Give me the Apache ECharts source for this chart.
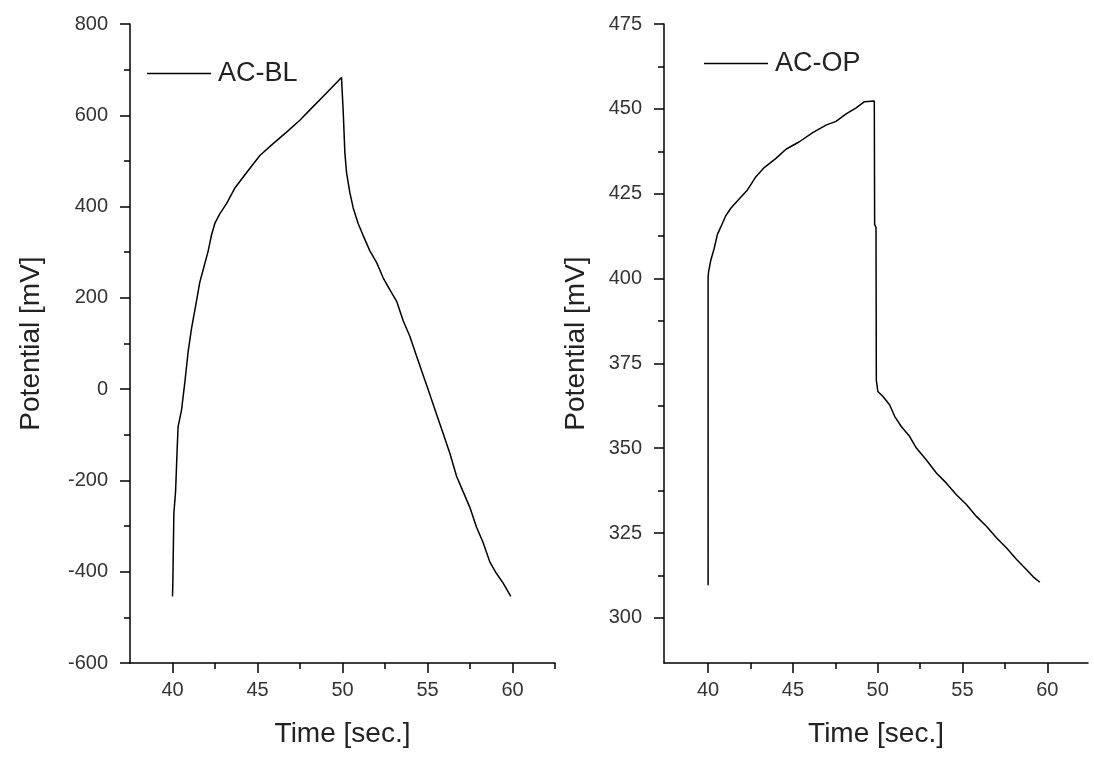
<!DOCTYPE html>
<html>
<head>
<meta charset="utf-8">
<title>AC-BL / AC-OP</title>
<script src="https://cdn.jsdelivr.net/npm/echarts@6/dist/echarts.min.js"></script>
<style>
  html, body { margin: 0; padding: 0; background: #fff; }
  #chart { width: 1094px; height: 761px; }
</style>
</head>
<body>
<div id="chart"></div>
<script>
// AC-BL (left panel)
const timeBL = [40.0, 40.02, 40.08, 40.18, 40.28, 40.33, 40.53, 40.72, 40.92, 41.12, 41.41, 41.61, 41.8, 42.1, 42.29, 42.49,
  42.78, 43.17, 43.66, 44.35, 45.14, 45.92, 46.71, 47.49, 48.27, 49.06, 49.94,
  50.04, 50.14, 50.24, 50.43, 50.63, 50.92, 51.21, 51.61, 52.0, 52.39, 52.78, 53.18, 53.57, 53.96, 54.35,
  54.74, 55.14, 55.53, 55.92, 56.31, 56.71, 57.1, 57.49, 57.88, 58.27, 58.67, 59.06, 59.45, 59.9];
const potBL = [-454, -425, -272, -225, -126, -82, -46, 13, 82, 133, 193, 235, 261, 303, 337, 363,
  384, 406, 440, 474, 512, 538, 563, 589, 619, 649, 683,
  610, 517, 474, 431, 397, 363, 337, 303, 278, 244, 218, 193, 150, 116, 73,
  31, -12, -55, -97, -140, -191, -225, -259, -302, -336, -379, -404, -425, -454];

// AC-OP (right panel)
const timeOP = [40.0, 40.0, 40.03, 40.16, 40.35, 40.55, 40.75, 41.04, 41.34, 41.83, 42.32, 42.82, 43.31, 44.0,
  44.59, 45.38, 46.17, 46.95, 47.54, 48.14, 48.73, 49.22, 49.8, 49.82, 49.9, 49.92, 50.01,
  50.3, 50.7, 51.0, 51.39, 51.88, 52.27, 52.86, 53.46, 54.05, 54.64, 55.23, 55.82, 56.41, 57.0,
  57.6, 58.19, 58.78, 59.17, 59.56];
const potOP = [309.6, 400.5, 402, 405.4, 408.7, 413, 415.2, 418.5, 420.7, 423.4, 426.1, 430, 432.7, 435.4,
  438.1, 440.3, 443, 445.2, 446.3, 448.5, 450.3, 452.1, 452.3, 416, 415, 370, 366.7,
  365.3, 362.8, 359.4, 356.4, 353.5, 350.1, 346.6, 342.7, 339.7, 336.3, 333.4, 329.9, 327, 323.6,
  320.6, 317.2, 314.2, 312.1, 310.5];

// ticks
const xMajor = [40, 45, 50, 55, 60];
const xMinor = [42.5, 47.5, 52.5, 57.5, 62.5];
const yMajorOP = [300, 325, 350, 375, 400, 425, 450, 475];
const yMinorOP = [312.5, 337.5, 362.5, 387.5, 412.5, 437.5, 462.5];

const FONT = "'Liberation Sans', Arial, sans-serif";
const black = { color: '#000', width: 1.5 };

const labelStyle = { color: '#333', fontSize: 20, fontFamily: FONT };
const nameStyle = { color: '#222', fontSize: 28, fontFamily: FONT };

function mainX(grid, min, max) {
    return {
        gridIndex: grid, type: 'value', min: min, max: max, position: 'bottom',
        name: 'Time [sec.]', nameLocation: 'middle', nameGap: 57, nameTextStyle: nameStyle,
        axisLine: { show: true, onZero: false, lineStyle: black },
        axisTick: { show: true, length: 10, customValues: xMajor, lineStyle: black },
        axisLabel: Object.assign({ customValues: xMajor, margin: 17 }, labelStyle),
        splitLine: { show: false }
    };
}
function minorX(grid, min, max) {
    return {
        gridIndex: grid, type: 'value', min: min, max: max, position: 'bottom',
        axisLine: { show: false, onZero: false },
        axisTick: { show: true, length: 6, customValues: xMinor, lineStyle: black },
        axisLabel: { show: false },
        splitLine: { show: false }
    };
}

const chart = echarts.init(document.getElementById('chart'));

const option = {
    animation: false,
    backgroundColor: '#fff',
    grid: [
        { left: 130, top: 24, width: 425, height: 639 },
        { left: 664, top: 24, width: 424, height: 639 }
    ],
    legend: [{
        data: ['AC-BL'], left: 142, top: 55, icon: 'rect', itemWidth: 64, itemHeight: 1.5,
        textStyle: { color: '#222', fontSize: 27, fontFamily: FONT, padding: [0, 0, 0, 2] }
    }, {
        data: ['AC-OP'], left: 699, top: 45, icon: 'rect', itemWidth: 64, itemHeight: 1.5,
        textStyle: { color: '#222', fontSize: 27, fontFamily: FONT, padding: [0, 0, 0, 2] }
    }],
    xAxis: [
        mainX(0, 37.5, 62.5),
        minorX(0, 37.5, 62.5),
        mainX(1, 37.4, 62.4),
        minorX(1, 37.4, 62.4)
    ],
    yAxis: [{
        gridIndex: 0, type: 'value', min: -600, max: 800, interval: 200, position: 'left',
        name: 'Potential [mV]', nameLocation: 'middle', nameGap: 85, nameTextStyle: nameStyle,
        axisLine: { show: true, onZero: false, lineStyle: black },
        axisTick: { show: true, length: 10, lineStyle: black },
        minorTick: { show: true, splitNumber: 2, length: 6, lineStyle: black },
        axisLabel: Object.assign({ margin: 22 }, labelStyle),
        splitLine: { show: false }
    }, {
        gridIndex: 1, type: 'value', min: 286.7, max: 475, position: 'left',
        name: 'Potential [mV]', nameLocation: 'middle', nameGap: 74, nameTextStyle: nameStyle,
        axisLine: { show: true, onZero: false, lineStyle: black },
        axisTick: { show: true, length: 10, customValues: yMajorOP, lineStyle: black },
        axisLabel: Object.assign({ customValues: yMajorOP, margin: 22 }, labelStyle),
        splitLine: { show: false }
    }, {
        gridIndex: 1, type: 'value', min: 286.7, max: 475, position: 'left', offset: 0,
        axisLine: { show: false, onZero: false },
        axisTick: { show: true, length: 6, customValues: yMinorOP, lineStyle: black },
        axisLabel: { show: false },
        splitLine: { show: false }
    }],
    series: [{
        name: 'AC-BL', type: 'line', xAxisIndex: 0, yAxisIndex: 0,
        data: timeBL.map((t, i) => [t, potBL[i]]),
        showSymbol: false, symbol: 'none', color: '#000',
        lineStyle: { color: '#000', width: 1.5 }
    }, {
        name: 'AC-OP', type: 'line', xAxisIndex: 2, yAxisIndex: 1,
        data: timeOP.map((t, i) => [t, potOP[i]]),
        showSymbol: false, symbol: 'none', color: '#000',
        lineStyle: { color: '#000', width: 1.5 }
    }]
};

chart.setOption(option);
</script>
</body>
</html>
